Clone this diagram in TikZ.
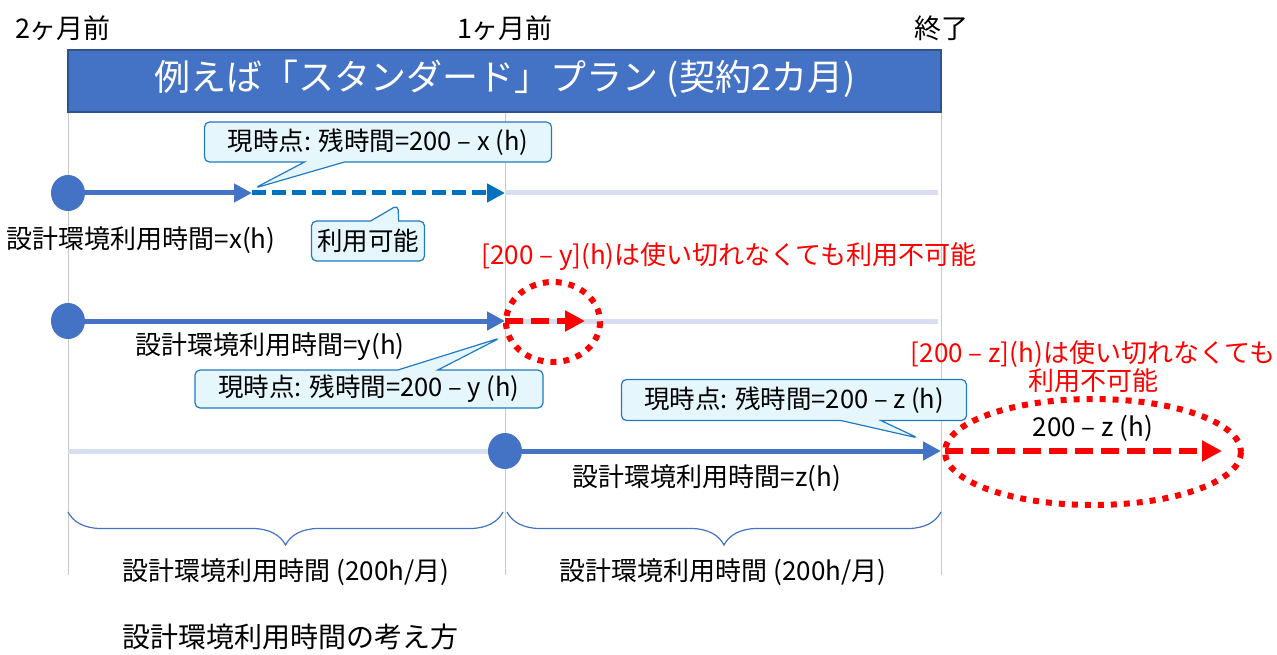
\documentclass[tikz,border=0pt]{standalone}
\usepackage{fontspec}
\setmainfont{Noto Sans CJK JP}
\usepackage{tikz}
\usetikzlibrary{arrows.meta,shapes.geometric,shapes.callouts,decorations.pathreplacing}

\definecolor{bar}{HTML}{4472C4}
\definecolor{barline}{HTML}{2F528F}
\definecolor{dashblue}{HTML}{0070C0}
\definecolor{pale}{HTML}{D6DEF0}
\definecolor{grid}{HTML}{C8C8C8}
\definecolor{callfill}{HTML}{E5F6FD}
\definecolor{callline}{HTML}{1F7AC2}

\tikzset{
  txt/.style={font=\fontsize{26}{31}\selectfont, inner sep=0pt},
  redtxt/.style={txt, text=red},
  dot/.style={ellipse, fill=bar, minimum width=34pt, minimum height=36pt, inner sep=0pt},
  used/.style={draw=bar, line width=5pt, -{Triangle[length=18pt,width=18pt]}},
  avail/.style={draw=dashblue, line width=5pt, dash pattern=on 14pt off 6pt, -{Triangle[length=18pt,width=18pt]}},
  lost/.style={draw=red, line width=6pt, dash pattern=on 18pt off 8pt, -{Triangle[length=20pt,width=20pt]}},
  rest/.style={draw=pale, line width=5pt},
  ring/.style={draw=red, line width=6pt, dash pattern=on 6pt off 7pt},
  note/.style={rectangle callout, draw=callline, fill=callfill, line width=1.2pt, rounded corners=5pt,
    font=\fontsize{25.5}{30}\selectfont, inner sep=0pt, callout pointer width=40pt},
}

\begin{document}
\begin{tikzpicture}[x=1pt, y=-1pt]
  \useasboundingbox (0,0) rectangle (1277,655);

  % months
  \draw[grid, line width=1pt] (68,112) -- (68,575);
  \draw[grid, line width=1pt] (505,112) -- (505,575);
  \draw[grid, line width=1pt] (941,112) -- (941,575);
  \draw (63,28) node (01) [txt, font=\fontsize{27}{31}\selectfont] {2ヶ月前};
  \draw (505,28) node (02) [txt, font=\fontsize{27}{31}\selectfont] {1ヶ月前};
  \draw (941,28) node (03) [txt, font=\fontsize{27}{31}\selectfont] {終了};

  \draw[draw=barline, fill=bar, line width=1.5pt] (68,50) rectangle (941,112);
  \draw (505,79) node (00) [txt, text=white, font=\fontsize{36}{40}\selectfont] {例えば「スタンダード」プラン (契約2カ月)};

  % row 1
  \coordinate (12) at (252,193);
  \coordinate (13) at (505,193);
  \coordinate (14) at (938,193);
  \draw[rest] (13) -- (14);
  \draw (68,193) node (11) [dot] {};
  \draw[used] (11.center) -- (12);
  \draw[avail] (12) -- (13);
  \coordinate (p1) at (255,188);
  \coordinate (p2) at (398,205);
  \draw (378,142) node (15) [note, minimum width=347pt, minimum height=40pt, callout absolute pointer=(p1)] {現時点: 残時間=200 – x (h)};
  \draw (368,241) node (16) [note, minimum width=113pt, minimum height=40pt, callout pointer width=28pt, callout absolute pointer=(p2)] {利用可能};
  \draw (141,240) node (17) [txt] {設計環境利用時間=x(h)};

  % row 2
  \draw (729,257) node (20) [redtxt] {[200 – y](h)は使い切れなくても利用不可能};
  \coordinate (22) at (505,321);
  \coordinate (23) at (585,321);
  \coordinate (24) at (938,321);
  \draw[rest] (22) -- (24);
  \draw (68,321) node (21) [dot] {};
  \draw[used] (21.center) -- (22);
  \draw[lost] (22) -- (23);
  \draw[ring] (553,322) ellipse [x radius=47, y radius=40];
  \draw (270,347) node (25) [txt] {設計環境利用時間=y(h)};
  \coordinate (p3) at (500,338);
  \draw (369,389) node (26) [note, minimum width=348pt, minimum height=38pt, callout absolute pointer=(p3)] {現時点: 残時間=200 – y (h)};

  % row 3
  \draw (1093,367) node (30) [redtxt, align=center, font=\fontsize{26}{28}\selectfont] {[200 – z](h)は使い切れなくても\\利用不可能};
  \coordinate (31) at (68,451);
  \coordinate (33) at (941,451);
  \coordinate (34) at (945,451);
  \coordinate (35) at (1222,451);
  \draw[rest] (31) -- (505,451);
  \draw (505,451) node (32) [dot] {};
  \draw[used] (32.center) -- (33);
  \draw[lost] (34) -- (35);
  \draw[ring] (1093,452) ellipse [x radius=148, y radius=53];
  \draw (1093,428) node (36) [txt] {200 – z (h)};
  \draw (707,478) node (37) [txt] {設計環境利用時間=z(h)};
  \coordinate (p4) at (918,438);
  \draw (794,400) node (38) [note, minimum width=345pt, minimum height=41pt, callout absolute pointer=(p4)] {現時点: 残時間=200 – z (h)};

  % braces
  \coordinate (b1) at (68,512);
  \coordinate (b2) at (503,512);
  \coordinate (b3) at (507,512);
  \coordinate (b4) at (941,512);
  \draw[bar, line width=1.2pt, decorate, decoration={brace, mirror, amplitude=33pt}] (b1) -- (b2);
  \draw[bar, line width=1.2pt, decorate, decoration={brace, mirror, amplitude=33pt}] (b3) -- (b4);
  \draw (286,572) node (41) [txt] {設計環境利用時間 (200h/月)};
  \draw (723,572) node (42) [txt] {設計環境利用時間 (200h/月)};

  \draw (290,637) node (50) [txt, font=\fontsize{28}{32}\selectfont] {設計環境利用時間の考え方};
\end{tikzpicture}
\end{document}
